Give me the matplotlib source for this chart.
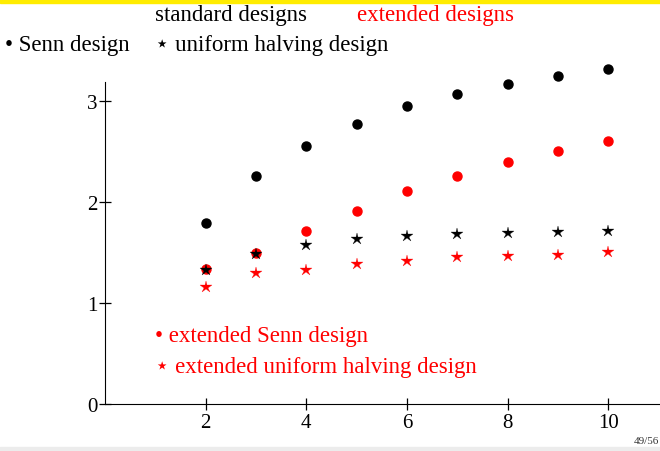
import numpy as np
import matplotlib
matplotlib.use('Agg')
import matplotlib.pyplot as plt

plt.rcParams['font.family'] = ['Liberation Serif', 'DejaVu Sans']

# number of levels
n = [2, 3, 4, 5, 6, 7, 8, 9, 10]

senn = [1.79, 2.26, 2.56, 2.77, 2.95, 3.07, 3.17, 3.25, 3.32]
senn_ext = [1.34, 1.50, 1.71, 1.91, 2.11, 2.26, 2.40, 2.51, 2.61]
halving = [1.33, 1.49, 1.58, 1.63, 1.66, 1.68, 1.69, 1.70, 1.71]
halving_ext = [1.16, 1.30, 1.33, 1.39, 1.42, 1.46, 1.47, 1.48, 1.51]

xticks = [2, 4, 6, 8, 10]
yticks = [0, 1, 2, 3]

fig = plt.figure(figsize=[6.6, 4.52], dpi=100)

# beamer-like frame decorations
fig.patches.append(plt.Rectangle((0, 1 - 4/452), 1, 4/452, transform=fig.transFigure,
                                 color='#ffec00', zorder=0))
fig.patches.append(plt.Rectangle((0, 0), 1, 4/452, transform=fig.transFigure,
                                 color='#ececec', zorder=0))

ax = fig.add_axes([105/660, 1 - 405/452, 1 - 105/660, (405 - 83)/452])
ax.set_xlim(0, 11.03)
ax.set_ylim(0, 3.19)
ax.spines['top'].set_visible(False)
ax.spines['right'].set_visible(False)
ax.tick_params(direction='inout', length=9, width=0.9, labelsize=15, pad=1)
ax.tick_params(axis='x', pad=2)
ax.set_xticks(xticks)
ax.set_yticks(yticks)

ax.plot(n, senn, 'o', color='black', markersize=6.5, clip_on=False)
ax.plot(n, senn_ext, 'o', color='red', markersize=6.5, clip_on=False)
ax.plot(n, halving, '*', color='black', markersize=9, markeredgewidth=0.2, clip_on=False)
ax.plot(n, halving_ext, '*', color='red', markersize=9, markeredgewidth=0.2, clip_on=False)

fs = 16.5
fig.text(155/660, 1 - 16/452, 'standard designs', fontsize=fs, va='center')
fig.text(357/660, 1 - 16/452, 'extended designs', fontsize=fs, va='center', color='red')
fig.text(5/660, 1 - 46/452, '\u2022 Senn design', fontsize=fs, va='center')
fig.text(155/660, 1 - 46/452, '\u22c6 uniform halving design', fontsize=fs, va='center')
fig.text(155/660, 1 - 337/452, '\u2022 extended Senn design', fontsize=fs, va='center', color='red')
fig.text(155/660, 1 - 368/452, '\u22c6 extended uniform halving design', fontsize=fs, va='center', color='red')
fig.text(659/660, 1 - 442/452, '49/56', fontsize=8, va='center', ha='right', color='#333333')

fig.savefig('out.png', dpi=100)
